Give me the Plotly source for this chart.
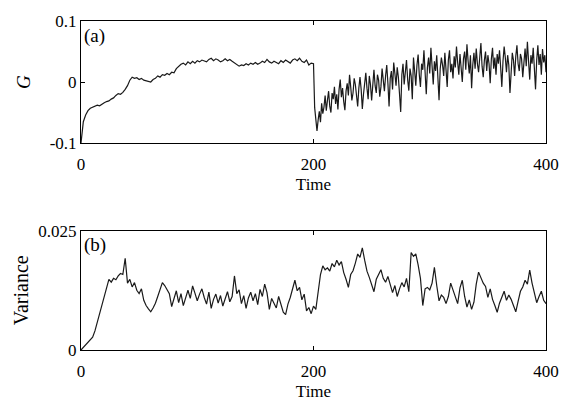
import plotly.graph_objects as go

# Panel (a): G, early part sampled every 2 time units (t = 0..198)
g_early = [
    -0.100, -0.065, -0.054, -0.047, -0.043, -0.041, -0.040, -0.038, -0.039, -0.036,
    -0.034, -0.032, -0.031, -0.028, -0.026, -0.022, -0.019, -0.020, -0.017, -0.012,
    -0.006, 0.003, 0.008, 0.006, 0.007, 0.004, 0.006, 0.003, 0.002, 0.001,
    0.000, 0.004, 0.006, 0.010, 0.008, 0.012, 0.011, 0.014, 0.012, 0.016,
    0.015, 0.022, 0.026, 0.029, 0.031, 0.028, 0.033, 0.030, 0.034, 0.031,
    0.035, 0.033, 0.036, 0.034, 0.033, 0.037, 0.039, 0.035, 0.038, 0.036,
    0.033, 0.035, 0.038, 0.035, 0.037, 0.034, 0.031, 0.029, 0.026, 0.028,
    0.027, 0.030, 0.028, 0.031, 0.029, 0.032, 0.029, 0.031, 0.034, 0.032,
    0.037, 0.033, 0.031, 0.034, 0.032, 0.030, 0.035, 0.032, 0.036, 0.033,
    0.031, 0.036, 0.038, 0.035, 0.039, 0.034, 0.032, 0.036, 0.028, 0.031,
]
# Panel (a): G, late part sampled every time unit (t = 200..400)
g_late = [
    0.030, -0.042, -0.070, -0.080, -0.062, -0.048, -0.066, -0.035, -0.052, -0.041,
    -0.022, -0.047, -0.030, -0.015, -0.040, -0.050, -0.018, -0.028, -0.008, -0.036,
    -0.020, -0.045, -0.012, 0.004, -0.025, -0.010, -0.032, -0.046, -0.015, -0.002,
    -0.022, 0.012, -0.008, -0.030, -0.018, 0.006, -0.004, -0.026, -0.040, -0.010,
    0.008, -0.012, -0.044, -0.020, 0.002, 0.015, -0.010, -0.028, 0.010, -0.004,
    -0.030, 0.006, 0.020, -0.006, -0.018, 0.012, 0.003, -0.024, -0.008, 0.022,
    0.004, -0.015, 0.010, 0.028, -0.002, -0.040, 0.006, 0.018, -0.012, 0.032,
    0.014, -0.006, 0.024, 0.008, -0.020, -0.049, 0.012, 0.030, -0.004, 0.016,
    0.036, 0.004, -0.014, 0.022, 0.010, -0.028, 0.040, 0.018, -0.006, 0.028,
    0.045, 0.012, -0.008, 0.030, 0.020, 0.052, 0.006, -0.020, 0.024, 0.040,
    0.014, 0.056, 0.026, -0.004, 0.034, 0.018, 0.044, 0.008, -0.030, 0.022,
    0.040, 0.028, 0.010, 0.048, 0.020, -0.008, 0.036, 0.052, 0.016, 0.030,
    0.006, 0.042, 0.024, 0.058, 0.032, 0.012, 0.046, 0.026, 0.000, 0.038,
    0.050, 0.020, 0.062, 0.034, 0.014, 0.044, -0.010, 0.028, 0.048, 0.022,
    0.055, 0.030, 0.016, 0.040, 0.064, 0.026, 0.008, 0.036, 0.050, 0.018,
    0.044, 0.030, -0.002, 0.038, 0.056, 0.022, 0.040, 0.012, 0.046, 0.030,
    0.052, 0.024, -0.008, 0.034, 0.058, 0.040, 0.016, 0.044, 0.028, -0.018,
    0.026, 0.048, 0.036, 0.010, 0.042, 0.060, 0.030, 0.018, 0.046, 0.038,
    0.008, 0.040, 0.055, 0.026, 0.066, 0.034, 0.004, 0.044, 0.030, 0.056,
    0.020, -0.012, 0.036, 0.060, 0.028, 0.046, 0.012, 0.054, 0.032, 0.044,
    0.016,
]
# Panel (b): Variance sampled every 2 time units (t = 0..400)
variance = [
    0.0000, 0.0005, 0.0010, 0.0016, 0.0021, 0.0027, 0.0040, 0.0058, 0.0078, 0.0098,
    0.0117, 0.0135, 0.0148, 0.0142, 0.0150, 0.0147, 0.0155, 0.0160, 0.0158, 0.0192,
    0.0140, 0.0148, 0.0132, 0.0141, 0.0125, 0.0118, 0.0128, 0.0104, 0.0093, 0.0086,
    0.0080, 0.0088, 0.0098, 0.0112, 0.0128, 0.0141, 0.0135, 0.0125, 0.0118, 0.0091,
    0.0108, 0.0124, 0.0099, 0.0118, 0.0093, 0.0112, 0.0125, 0.0108, 0.0134, 0.0119,
    0.0103, 0.0117, 0.0128, 0.0110, 0.0096, 0.0121, 0.0087, 0.0106, 0.0117, 0.0098,
    0.0114, 0.0092, 0.0108, 0.0122, 0.0101, 0.0112, 0.0155, 0.0118, 0.0126, 0.0097,
    0.0114, 0.0087, 0.0109, 0.0121, 0.0103, 0.0118, 0.0095, 0.0127, 0.0112, 0.0138,
    0.0120, 0.0085, 0.0108, 0.0096, 0.0088, 0.0112, 0.0094, 0.0079, 0.0074, 0.0096,
    0.0110, 0.0128, 0.0146, 0.0124, 0.0131, 0.0105, 0.0117, 0.0082, 0.0089, 0.0076,
    0.0092, 0.0085, 0.0120, 0.0158, 0.0176, 0.0168, 0.0172, 0.0165, 0.0181, 0.0174,
    0.0188, 0.0178, 0.0185, 0.0162, 0.0148, 0.0131, 0.0158, 0.0166, 0.0182, 0.0201,
    0.0194, 0.0214, 0.0188, 0.0165, 0.0152, 0.0137, 0.0122, 0.0148, 0.0160, 0.0168,
    0.0150, 0.0142, 0.0154, 0.0136, 0.0120, 0.0135, 0.0112, 0.0128, 0.0141, 0.0132,
    0.0150, 0.0122, 0.0204, 0.0196, 0.0201, 0.0178, 0.0150, 0.0093, 0.0128, 0.0131,
    0.0126, 0.0140, 0.0173, 0.0135, 0.0103, 0.0115, 0.0110, 0.0097, 0.0112, 0.0140,
    0.0126, 0.0113, 0.0097, 0.0130, 0.0146, 0.0112, 0.0090, 0.0105, 0.0085, 0.0100,
    0.0138, 0.0163, 0.0152, 0.0140, 0.0133, 0.0110, 0.0128, 0.0106, 0.0093, 0.0079,
    0.0098, 0.0110, 0.0123, 0.0104, 0.0115, 0.0106, 0.0094, 0.0080, 0.0102, 0.0123,
    0.0132, 0.0146, 0.0138, 0.0167, 0.0140, 0.0121, 0.0099, 0.0112, 0.0123, 0.0104,
    0.0097,
]

time_ticks = [0, 200, 400]
g_ticks = [-0.1, 0, 0.1]
g_tick_text = ["-0.1", "0", "0.1"]
var_ticks = [0, 0.025]
var_tick_text = ["0", "0.025"]

t_g = [2 * i for i in range(len(g_early))] + [200 + i for i in range(len(g_late))]
g_all = g_early + g_late
t_v = [2 * i for i in range(len(variance))]

FONT = "Liberation Serif"
LINE = "#1a1a1a"

fig = go.Figure()
fig.add_trace(go.Scatter(x=t_g, y=g_all, mode="lines", line=dict(color=LINE, width=1.2),
                         xaxis="x", yaxis="y", showlegend=False))
fig.add_trace(go.Scatter(x=t_v, y=variance, mode="lines", line=dict(color=LINE, width=1.2),
                         xaxis="x2", yaxis="y2", showlegend=False))

axis_common = dict(showline=True, linecolor="black", linewidth=1, mirror="ticks",
                   ticks="inside", ticklen=4, tickcolor="black", showgrid=False,
                   zeroline=False, tickfont=dict(family=FONT, size=17, color="black"))

fig.update_layout(
    width=571, height=409,
    margin=dict(l=81, r=24, t=18, b=52),
    paper_bgcolor="white", plot_bgcolor="white",
    font=dict(family=FONT, color="black"),
    xaxis=dict(domain=[0, 1], range=[0, 400], tickvals=time_ticks, anchor="y",
               ticklabelstandoff=6,
               title=dict(text="Time", font=dict(family=FONT, size=17), standoff=4),
               **axis_common),
    yaxis=dict(domain=[0.629, 1.0], range=[-0.1, 0.1], tickvals=g_ticks, ticktext=g_tick_text,
               anchor="x",
               title=dict(text="<i>G</i>", font=dict(family=FONT, size=19), standoff=14),
               **axis_common),
    xaxis2=dict(domain=[0, 1], range=[0, 400], tickvals=time_ticks, anchor="y2",
                ticklabelstandoff=6,
                title=dict(text="Time", font=dict(family=FONT, size=17), standoff=4),
                **axis_common),
    yaxis2=dict(domain=[0.0, 0.363], range=[0, 0.025], tickvals=var_ticks, ticktext=var_tick_text,
                anchor="x2",
                title=dict(text="Variance", font=dict(family=FONT, size=20), standoff=4),
                **axis_common),
    annotations=[
        dict(text="(a)", xref="x domain", yref="y domain", x=0.002, y=0.985,
             xanchor="left", yanchor="top", showarrow=False,
             font=dict(family=FONT, size=19, color="black")),
        dict(text="(b)", xref="x2 domain", yref="y2 domain", x=0.002, y=0.985,
             xanchor="left", yanchor="top", showarrow=False,
             font=dict(family=FONT, size=19, color="black")),
    ],
)

fig.write_html("out.html", config={"displayModeBar": False},
               post_script="document.body.style.margin='0';")
